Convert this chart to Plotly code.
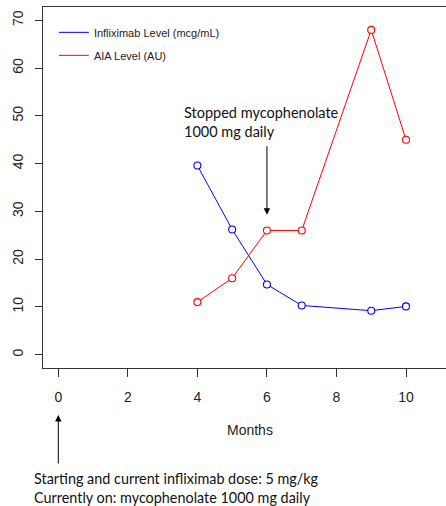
import plotly.graph_objects as go

months_ifx = [4, 5, 6, 7, 9, 10]
infliximab = [39.6, 26.2, 14.7, 10.3, 9.2, 10.1]
months_aia = [4, 5, 6, 7, 9, 10]
aia = [11.0, 16.0, 26.0, 26.0, 68.0, 45.0]
x_ticks = [0, 2, 4, 6, 8, 10]
y_ticks = [0, 10, 20, 30, 40, 50, 60, 70]

BLUE = "#0000FF"
RED = "#FF0000"
AX = "#333333"
FONT = "Liberation Sans, Arial, sans-serif"
NOTE_FONT = "Lato, Carlito, sans-serif"

fig = go.Figure()
for xs, ys, c in [(months_ifx, infliximab, BLUE), (months_aia, aia, RED)]:
    fig.add_trace(go.Scatter(
        x=xs, y=ys, mode="lines+markers", showlegend=False,
        line=dict(color=c, width=1),
        marker=dict(symbol="circle", size=7, color="white", line=dict(color=c, width=1.1)),
    ))
# legend entries (lines only)
fig.add_trace(go.Scatter(x=[None], y=[None], mode="lines", name="Infliximab Level (mcg/mL)",
                         line=dict(color=BLUE, width=1), legendgroup="a"))
fig.add_trace(go.Scatter(x=[None], y=[None], mode="lines", name="AIA Level (AU)",
                         line=dict(color=RED, width=1), legendgroup="b"))

fig.update_layout(
    width=446, height=506,
    margin=dict(l=43, r=0, t=7, b=138),
    plot_bgcolor="white", paper_bgcolor="white",
    font=dict(family=FONT, color="#222222", size=14),
    legend=dict(x=0.027, y=0.97, xanchor="left", yanchor="top",
                font=dict(size=11, family=FONT), bgcolor="rgba(0,0,0,0)",
                tracegroupgap=4, itemwidth=30),
    xaxis=dict(range=[-0.44, 11.15], tickvals=x_ticks, showgrid=False, zeroline=False,
               showline=True, mirror=True, linecolor=AX, linewidth=1, automargin=False,
               ticks="outside", ticklen=8, tickcolor=AX, tickwidth=1,
               ticklabelstandoff=8, tickfont=dict(size=14)),
    yaxis=dict(range=[-2.8, 72.8], tickvals=y_ticks, showgrid=False, zeroline=False,
               showline=True, mirror=False, linecolor=AX, linewidth=1, automargin=False,
               ticks="outside", ticklen=7, tickcolor=AX, tickwidth=1,
               tickangle=-90, ticklabelstandoff=6, tickfont=dict(size=14)),
)

fig.add_annotation(text="Months", xref="paper", yref="paper", x=(250 - 43) / 403,
                   y=-(430 - 368) / 361, showarrow=False, xanchor="center", yanchor="middle",
                   font=dict(size=14, family=FONT))

# top annotation
fig.add_annotation(text="Stopped mycophenolate<br>1000 mg daily", xref="x", yref="y",
                   x=3.56, y=53.0, showarrow=False, xanchor="left", yanchor="top", align="left",
                   font=dict(size=14.5, family=NOTE_FONT, color="#111111"))
fig.add_annotation(text="", xref="x", yref="y", x=6, y=29.3, ax=0, ay=-70,
                   showarrow=True, arrowhead=2, arrowsize=1.3, arrowwidth=1, arrowcolor="#000000")

# bottom annotation
fig.add_annotation(text="", xref="x", yref="paper", x=0, y=-(415 - 368) / 361, ax=0, ay=50,
                   showarrow=True, arrowhead=2, arrowsize=1.3, arrowwidth=1, arrowcolor="#000000")
fig.add_annotation(text="Starting and current infliximab dose: 5 mg/kg<br>Currently on: mycophenolate 1000 mg daily",
                   xref="paper", yref="paper", x=(32 - 43) / 403, y=-(468 - 368) / 361,
                   showarrow=False, xanchor="left", yanchor="top", align="left",
                   font=dict(size=14.4, family=NOTE_FONT, color="#111111"))

fig.write_html("out.html", config={"displayModeBar": False},
               post_script="document.body.style.margin='0';")
